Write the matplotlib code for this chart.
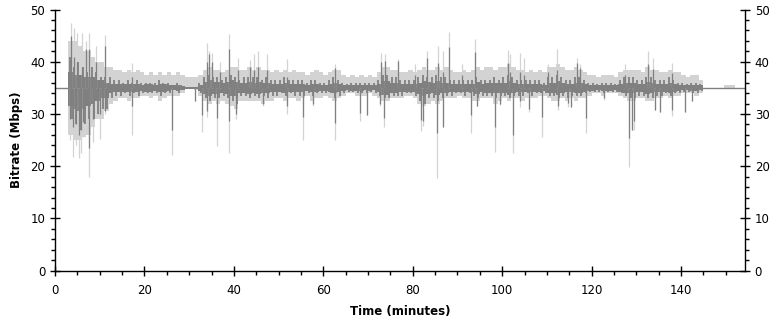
import numpy as np
import matplotlib
matplotlib.use("Agg")
import matplotlib.pyplot as plt
from matplotlib.ticker import MultipleLocator

# per-minute envelope, bins start at minute 3 .. 144
bin_start = np.arange(3, 145)
light_hi = [44, 44, 43, 42, 42, 41, 40, 40, 39, 39,
            38.5, 38.5, 38, 38.5, 38, 38.5, 38, 37.5, 38, 37.5,
            38, 37.5, 38, 37.5, 38, 37.5, 37, 37, 37, 37.5,
            38.5, 39, 38.5, 38.5, 38, 38.5, 39, 39, 38.5, 38.5,
            39, 38.5, 39, 38.5, 38.5, 38, 38.5, 38, 38.5, 38,
            38.5, 38, 38, 37.5, 38, 38.5, 38, 37.5, 38, 38.5,
            38.5, 37.5, 37, 37.5, 37, 37.5, 37, 37.5, 37, 38,
            39, 39, 38.5, 38.5, 38, 38, 38.5, 38, 38.5, 39,
            38.5, 38.5, 39, 38.5, 39, 38.5, 38, 38, 38.5, 38,
            38.5, 39, 38.5, 39, 39, 38.5, 39, 39, 39.5, 39,
            38.5, 38.5, 38, 38.5, 38, 38.5, 38, 39, 39, 39.5,
            39, 38.5, 38.5, 39, 38.5, 38, 37.5, 37.5, 37, 37.5,
            37.5, 37.5, 37, 38, 38.5, 38.5, 38.5, 38.5, 38, 39,
            38.5, 38.5, 38, 38, 38.5, 38, 38, 37.5, 37, 37.5,
            37.5, 36.5]
light_lo = [26, 25, 25, 25.5, 26, 27.5, 29, 29, 30.5, 32,
            32.5, 33, 33, 32.5, 33, 33, 33.5, 33.5, 33, 33.5,
            32.5, 33, 33.5, 33.5, 33.5, 34, 35, 35, 34.5, 33.5,
            32.5, 32, 32.5, 32, 32.5, 32, 31.5, 31, 32.5, 32.5,
            32.5, 32.5, 32.5, 32, 32.5, 32.5, 33, 33, 32.5, 33,
            33, 32.5, 33, 33.5, 32.5, 33, 33, 33.5, 33, 32.5,
            33, 33.5, 34, 34, 33.5, 33.5, 33.5, 34, 33.5, 33,
            32.5, 32.5, 33, 33, 33, 33.5, 33.5, 33, 32, 31.5,
            32, 32.5, 32, 32.5, 33, 33, 33, 33.5, 33, 33,
            32.5, 32.5, 33, 33, 33, 32, 32.5, 33, 32.5, 33,
            33, 32.5, 33, 33, 33, 33.5, 33.5, 33, 32.5, 32.5,
            33, 32.5, 33, 32.5, 33, 33, 33.5, 34, 34, 33.5,
            34, 34, 34, 33.5, 33, 32.5, 32.5, 33, 33, 32.5,
            32.5, 33, 33, 33.5, 33, 33.5, 33.5, 34, 34, 34,
            33.5, 34]
# per-minute extremes of the dark (average) trace
dark_hi = [41, 39, 40, 39, 38, 39, 38, 37, 37, 37,
           36.5, 36.5, 36, 36.5, 36, 36.5, 36, 36, 36, 36,
           36.5, 36, 36, 35.5, 36, 35.5, 35.2, 35.2, 35.2, 36,
           37, 37.5, 37, 37, 36.5, 37, 37.5, 37, 36.5, 37,
           37, 37, 37, 36.5, 37, 36.5, 36.5, 36.5, 37, 36.5,
           36.5, 36.5, 36.5, 36, 36.5, 36.5, 36, 36, 36.5, 37,
           36.5, 36, 35.8, 36, 36, 36, 36, 36, 36, 36.5,
           37.5, 37.5, 37, 37, 36.5, 36.5, 36.5, 36.5, 37, 37.5,
           37, 37, 37.5, 37, 37, 36.5, 36.5, 36.5, 36.5, 36.5,
           36.5, 37, 36.5, 36.5, 36.5, 37, 36.5, 37, 37.5, 37,
           36.5, 36.5, 36.5, 36.5, 36.5, 36.5, 36, 37, 37, 37.5,
           37, 36.5, 36.5, 37, 37, 36.5, 36, 36, 35.8, 36,
           36, 36, 35.8, 36.5, 37, 37, 37, 36.5, 36.5, 37,
           37, 36.5, 36.5, 36.5, 37, 36.5, 36, 36, 35.8, 36,
           36, 35.8]
dark_lo = [29, 28, 27, 28, 29, 29, 30, 31, 31, 33,
           33.5, 33.5, 34, 33.5, 34, 33.5, 34, 34, 34, 34,
           33.5, 34, 34, 34.5, 34, 34.5, 34.8, 34.8, 34.8, 34,
           33, 32.5, 33, 33, 33.5, 33, 32.5, 32, 33.5, 33.5,
           33, 33.5, 33, 33.5, 33, 33.5, 33.5, 34, 33.5, 34,
           33.5, 33.5, 33.5, 34, 33.5, 34, 34, 34, 34, 33,
           33.5, 34, 34.2, 34.2, 34, 34, 34, 34.2, 34, 33.5,
           33, 33, 33.5, 33.5, 33.5, 34, 34, 33.5, 32.5, 32,
           33, 33, 32.5, 33, 33.5, 33.5, 34, 34, 33.5, 34,
           33.5, 33, 33.5, 33.5, 33.5, 33, 33.5, 33.5, 33, 33.5,
           33.5, 33.5, 34, 33.5, 34, 34, 34, 33.5, 33.5, 33,
           33.5, 33, 33.5, 33.5, 33.5, 34, 34.2, 34.2, 34.3, 34,
           34.2, 34.2, 34.2, 34, 33.5, 33, 33, 33.5, 33.5, 33,
           33, 33.5, 33.5, 34, 33.5, 34, 34, 34.2, 34.2, 34,
           34, 34.4]
# dense middle of the dark trace
core_hi = [38, 37.5, 37.5, 37, 37, 37, 36.5, 36.5, 36, 35.8,
           35.7, 35.8, 35.7, 35.8, 35.7, 35.8, 35.6, 35.7, 35.7, 35.6,
           35.8, 35.7, 35.6, 35.5, 35.6, 35.4, 35.2, 35.2, 35.2, 35.6,
           36.2, 36.5, 36.2, 36.2, 35.9, 36.2, 36.5, 36.2, 35.9, 36,
           36.2, 36, 36.2, 35.9, 36, 35.8, 35.8, 35.7, 36, 35.8,
           35.8, 35.7, 35.8, 35.6, 35.8, 35.8, 35.6, 35.6, 35.8, 36,
           35.8, 35.6, 35.5, 35.6, 35.6, 35.6, 35.5, 35.6, 35.5, 35.8,
           36.3, 36.3, 36, 36, 35.8, 35.8, 35.8, 35.8, 36, 36.3,
           36.2, 36, 36.3, 36, 36, 35.8, 35.8, 35.7, 35.8, 35.7,
           35.8, 36.2, 35.8, 35.9, 35.9, 36, 35.9, 36, 36.3, 36,
           35.8, 35.8, 35.7, 35.8, 35.7, 35.8, 35.6, 36, 36, 36.3,
           36, 35.8, 35.8, 36, 36, 35.8, 35.6, 35.6, 35.5, 35.6,
           35.6, 35.6, 35.5, 35.8, 36, 36, 36, 35.8, 35.8, 36.2,
           36, 35.8, 35.8, 35.7, 36, 35.7, 35.6, 35.5, 35.5, 35.6,
           35.6, 35.5]
core_lo = [31.5, 31, 30.5, 31, 31.5, 32, 32.5, 33, 33, 34,
           34.3, 34.2, 34.3, 34.2, 34.3, 34.2, 34.4, 34.3, 34.3, 34.4,
           34.2, 34.3, 34.4, 34.5, 34.4, 34.6, 34.8, 34.8, 34.8, 34.4,
           33.8, 33.5, 33.8, 33.8, 34.1, 33.8, 33.5, 33.5, 34.1, 34,
           33.8, 34, 33.8, 34, 34, 34.2, 34.2, 34.3, 34, 34.2,
           34.2, 34.3, 34.2, 34.4, 34.2, 34.2, 34.4, 34.4, 34.2, 34,
           34.2, 34.4, 34.5, 34.4, 34.4, 34.4, 34.5, 34.4, 34.5, 34.2,
           33.7, 33.7, 34, 34, 34.2, 34.2, 34.2, 34.2, 33.8, 33.5,
           33.8, 34, 33.7, 34, 34, 34.2, 34.2, 34.3, 34.2, 34.3,
           34.2, 33.8, 34.2, 34.1, 34.1, 34, 34.1, 34, 33.7, 34,
           34.2, 34.2, 34.3, 34.2, 34.3, 34.2, 34.4, 34, 34, 33.7,
           34, 34.2, 34.2, 34, 34, 34.2, 34.4, 34.4, 34.5, 34.4,
           34.4, 34.4, 34.5, 34.2, 34, 34, 34, 34.2, 34.2, 33.8,
           34, 34.2, 34.2, 34.3, 34, 34.3, 34.4, 34.5, 34.5, 34.4,
           34.4, 34.5]

# flat stretches at the start and end
flat_t = [0, 3.1, 144.6, 154.3]
flat_rate = [35, 35, 35, 35]
tail_light_t = [149.5, 152]
tail_light_hi = [35.6, 35.6]

# spikes above: time, dark top, light top
up_t = [3.5, 4.2, 5.0, 6.0, 7.0, 7.7, 9.2, 11.2, 17.3, 33.9, 34.5, 35.0,
        36.8, 39.0, 41.0, 43.5, 44.6, 45.5, 47.5, 51.8, 62.6, 73.0, 73.8,
        76.7, 80.5, 83.1, 85.7, 86.7, 88.2, 91.0, 94.0, 101.2, 101.8,
        104.0, 104.8, 110.2, 112.2, 116.7, 117.4, 127.4, 132.5, 133.8, 137.9]
up_dark = [44.9, 41, 40, 39, 42.5, 42.5, 40, 43, 37, 40, 41.5, 40,
           38, 42.5, 38.5, 39, 38.5, 39, 38.5, 37, 38.8, 40, 40.1,
           40.1, 37.5, 40.7, 39.8, 38, 42.8, 37.5, 41.8, 39.8, 38,
           38, 37.5, 38, 38.5, 39.8, 38.8, 37.5, 39.5, 38.6, 37.9]
up_light = [47.5, 46.5, 45.5, 45.5, 44, 45.5, 43, 45.2, 39.8, 43.5, 42, 41.7,
            40, 45.4, 40.7, 40.4, 41.5, 42.0, 41.4, 40.5, 39.6, 41.7, 41.4,
            40.5, 39.5, 42.0, 43.1, 42.0, 45.6, 39.5, 44.4, 42.2, 41.4,
            41.7, 40.7, 39.6, 42.5, 40.7, 39.5, 39.6, 42.0, 40.7, 39.8]

# spikes below: time, dark bottom, light bottom
dn_t = [3.4, 4.0, 4.6, 5.3, 5.8, 6.3, 7.7, 8.6, 10.0, 11.2, 17.3, 26.1,
        31.3, 32.8, 34.0, 36.2, 39.0, 40.5, 46.6, 51.8, 55.5, 57.8, 62.6,
        68.2, 69.7, 72.7, 73.6, 81.8, 82.4, 85.5, 86.7, 93.1, 94.3, 98.4,
        99.6, 102.5, 104.0, 105.9, 109.0, 112.4, 114.8, 115.4, 118.8,
        122.7, 128.4, 129.0, 129.4, 134.2, 135.2, 137.9, 140.9, 142.4]
dn_dark = [29.0, 27.5, 28, 26, 27, 28.5, 23.5, 29.0, 30, 30.5, 31.5, 27.0,
           32.4, 29.9, 30.5, 29.2, 28.6, 30.0, 32, 31.5, 29.5, 32, 28.3,
           30.2, 29.9, 32, 29.2, 28.9, 28.6, 26.3, 27.6, 29.9, 31.5, 27.5,
           32, 26.0, 32.4, 31, 29.5, 31.5, 32.1, 31.3, 29.2,
           33, 25.4, 27.0, 28.6, 30.8, 30.3, 30.8, 30.3, 32.4]
dn_light = [25.0, 21.7, 24.0, 21.5, 22.5, 25.5, 18.0, 24.7, 25.3, 30, 26.0, 22.2,
            32.4, 26.5, 29.5, 23.9, 22.5, 29.0, 31.5, 30.0, 25.1, 31.5, 25.1,
            28.7, 29.9, 31.5, 27.6, 26.7, 27.7, 17.8, 27.6, 26.3, 31.5, 22.8,
            31.8, 22.6, 31.3, 30.3, 25.5, 30.8, 31.3, 31.3, 26.3,
            32.7, 19.9, 27.0, 27.0, 30.8, 30.3, 29.6, 30.3, 32.4]

light = "#d3d3d3"
dark = "#808080"
base = 35

fig = plt.figure(figsize=(7.77, 3.21), dpi=100)
ax = fig.add_axes([0.0708, 0.1567, 0.888, 0.8137])

edges = np.append(bin_start, bin_start[-1] + 1)
lh = np.append(light_hi, light_hi[-1])
ll = np.append(light_lo, light_lo[-1])
ch = np.append(core_hi, core_hi[-1])
cl = np.append(core_lo, core_lo[-1])

# min/max range in light grey
ax.fill_between(edges, ll, lh, step="post", color=light, lw=0)
ax.fill_between(tail_light_t, base, tail_light_hi, color=light, lw=0)
ax.vlines(up_t, base, up_light, color=light, lw=0.9)
ax.vlines(dn_t, dn_light, base, color=light, lw=0.9)

# average trace in dark grey
ax.fill_between(edges, cl, ch, step="post", color=dark, lw=0)
ax.vlines(bin_start + 0.25, base, dark_hi, color=dark, lw=1.3)
ax.vlines(bin_start + 0.7, dark_lo, base, color=dark, lw=1.3)
ax.vlines(up_t, base, up_dark, color=dark, lw=0.9)
ax.vlines(dn_t, dn_dark, base, color=dark, lw=0.9)
ax.plot(flat_t[:2], flat_rate[:2], color=dark, lw=1)
ax.plot(flat_t[2:], flat_rate[2:], color=dark, lw=1)

ax.set_xlim(0, 154.3)
ax.set_ylim(0, 50)
ax.xaxis.set_major_locator(MultipleLocator(20))
ax.xaxis.set_minor_locator(MultipleLocator(5))
ax.yaxis.set_major_locator(MultipleLocator(10))
ax.yaxis.set_minor_locator(MultipleLocator(2))
ax.tick_params(which="major", direction="inout", length=7, width=1,
               labelsize=8.5, right=True, labelright=True, top=False)
ax.tick_params(which="minor", direction="out", length=3, width=1,
               right=True, top=False)
ax.tick_params(axis="x", which="major", pad=6)
ax.spines["top"].set_visible(False)
for s in ("left", "right", "bottom"):
    ax.spines[s].set_linewidth(1)

ax.set_xlabel("Time (minutes)", fontsize=8.5, fontweight="bold", labelpad=6)
ax.set_ylabel("Bitrate (Mbps)", fontsize=8.5, fontweight="bold", labelpad=5)

fig.savefig("out.png", dpi=100)
